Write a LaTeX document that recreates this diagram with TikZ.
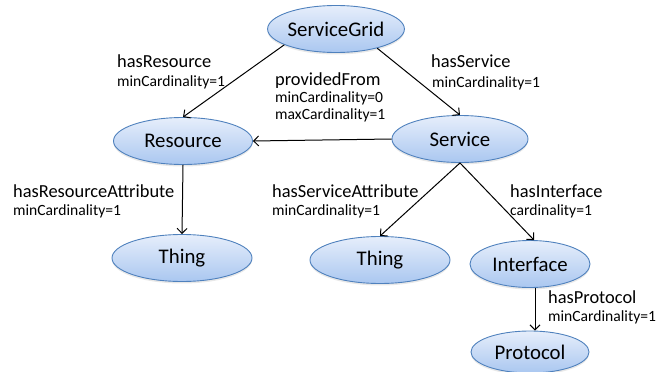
\documentclass[tikz,border=0pt]{standalone}
\usepackage{fontspec}
\setmainfont{Carlito}
\usetikzlibrary{shapes.geometric,arrows.meta,shadows}

\definecolor{conceptedge}{RGB}{79,129,189}
\definecolor{concepttop}{RGB}{230,238,251}
\definecolor{conceptbot}{RGB}{170,199,240}

\tikzset{
  concept/.style={ellipse, draw=conceptedge, line width=0.9pt,
    top color=concepttop, bottom color=conceptbot,
    minimum width=136pt, minimum height=47pt, inner sep=0pt,
    font=\fontsize{20.8}{24}\selectfont,
    drop shadow={opacity=0.18, shadow xshift=0pt, shadow yshift=-2pt}},
  rel/.style={-{Straight Barb[length=5pt,width=10pt]}, line width=1pt},
  lbl/.style={anchor=base west, inner sep=0pt, font=\fontsize{18.4}{22}\selectfont},
  card/.style={anchor=base west, inner sep=0pt, font=\fontsize{15.6}{18}\selectfont},
}

\begin{document}
\begin{tikzpicture}[x=1pt, y=-1pt]
  \useasboundingbox (0,0) rectangle (657,372);
  % concepts (ellipses)
  \node[concept]                   (sg)     at (336,29)  {ServiceGrid};
  \node[concept, minimum width=139pt] (res) at (183,141) {Resource};
  \node[concept]                   (srv)    at (460,139) {Service};
  \node[concept, minimum width=140pt] (thing1) at (182,258) {Thing};
  \node[concept, minimum width=140pt] (thing2) at (380,260) {Thing};
  \node[concept, minimum width=120pt] (iface) at (530,264) {Interface};
  \node[concept, minimum width=118pt, minimum height=42pt] (proto) at (530,352) {Protocol};
  % properties (arrows)
  \draw[rel] (sg.197) -- (res.north);
  \draw[rel] (sg.335) -- (srv.north);
  \draw[rel] (srv.west) -- (res.east);
  \draw[rel] (res.south) -- (thing1.north);
  \draw[rel] (srv.south) -- (thing2.north);
  \draw[rel] (srv.south) -- ([xshift=4pt]iface.north);
  \draw[rel] ([xshift=5pt]iface.south) -- ([xshift=5pt]proto.north);
  % property names and cardinalities
  \node[lbl]  (hasres)   at (117,67)  {hasResource};
  \node[card] (hasresc)  at (117,86)  {minCardinality=1};
  \node[lbl]  (provfrom) at (275,85)  {providedFrom};
  \node[card] (provmin)  at (275,102) {minCardinality=0};
  \node[card] (provmax)  at (275,119) {maxCardinality=1};
  \node[lbl]  (hassrv)   at (431,67)  {hasService};
  \node[card] (hassrvc)  at (432,87)  {minCardinality=1};
  \node[lbl]  (hasra)    at (13,197)  {hasResourceAttribute};
  \node[card] (hasrac)   at (13,215)  {minCardinality=1};
  \node[lbl]  (hassa)    at (272,197) {hasServiceAttribute};
  \node[card] (hassac)   at (272,215) {minCardinality=1};
  \node[lbl]  (hasif)    at (510,197) {hasInterface};
  \node[card] (hasifc)   at (510,215) {cardinality=1};
  \node[lbl]  (hasprot)  at (548,303) {hasProtocol};
  \node[card] (hasprotc) at (548,321) {minCardinality=1};
\end{tikzpicture}
\end{document}
